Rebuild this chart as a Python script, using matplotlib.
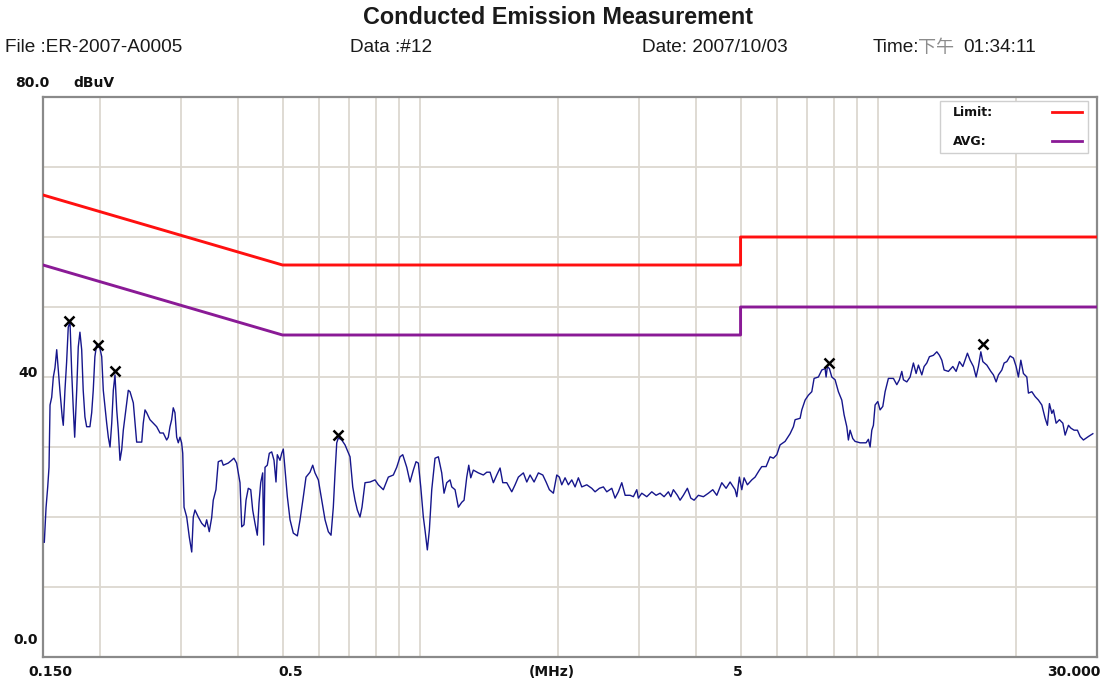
import matplotlib
matplotlib.use("Agg")
import matplotlib.pyplot as plt
from matplotlib.patches import Rectangle

# measured trace, frequency (MHz) and level (dBuV)
freq_mhz = [
    0.151, 0.1523, 0.1536, 0.1546, 0.1554, 0.1567, 0.158, 0.1593, 0.1607, 0.162,
    0.1633, 0.1652, 0.1661, 0.1675, 0.1689, 0.1703, 0.1718, 0.1733, 0.1746, 0.1759,
    0.1777, 0.1791, 0.1806, 0.1822, 0.1836, 0.1852, 0.1868, 0.1899, 0.1916, 0.1931,
    0.1947, 0.1964, 0.1997, 0.2015, 0.2031, 0.2049, 0.2066, 0.2083, 0.2101, 0.2119,
    0.2136, 0.2154, 0.2173, 0.219, 0.2209, 0.2228, 0.2246, 0.2265, 0.2303, 0.2323,
    0.2343, 0.2362, 0.2382, 0.2402, 0.2464, 0.2483, 0.2505, 0.2526, 0.2568, 0.2611,
    0.2656, 0.2701, 0.2746, 0.2793, 0.2816, 0.284, 0.2864, 0.2887, 0.2912, 0.2937,
    0.2961, 0.2986, 0.3011, 0.3028,
    0.3048, 0.3089, 0.313, 0.3168, 0.3193, 0.322, 0.3274, 0.3331, 0.3386, 0.3415,
    0.346, 0.3502, 0.353, 0.3578, 0.362, 0.3682, 0.3712, 0.3806, 0.3871, 0.3916,
    0.397, 0.4038, 0.4073, 0.412, 0.4162, 0.421, 0.4262, 0.4304, 0.4354, 0.4405,
    0.4443, 0.4481, 0.4526, 0.4549, 0.4579, 0.4632, 0.4679, 0.4736, 0.4791, 0.4839,
    0.4871, 0.4937, 0.498, 0.502, 0.5064, 0.5123, 0.5193, 0.5279, 0.5387, 0.5461,
    0.5552, 0.5627, 0.5741, 0.582, 0.5887, 0.5987, 0.609, 0.6192, 0.6295, 0.6381,
    0.6455, 0.6511, 0.6567, 0.662, 0.6734, 0.6846, 0.7021, 0.7117, 0.72, 0.7283,
    0.7382, 0.7456, 0.757, 0.7763, 0.7961, 0.8094, 0.83, 0.8511, 0.8728, 0.8878,
    0.9028, 0.9151, 0.9337, 0.9492, 0.9651, 0.9783, 0.9898, 1.0018, 1.0149, 1.0236,
    1.0355, 1.046, 1.0587, 1.0763, 1.0945, 1.1132, 1.1262, 1.1416, 1.1606,
    1.1707, 1.1903, 1.2102, 1.2311, 1.2454, 1.2624, 1.2752, 1.2881, 1.305, 1.3383,
    1.3723, 1.396, 1.4194, 1.4431, 1.468, 1.4926, 1.5129, 1.5437, 1.583, 1.6095,
    1.6364, 1.6781, 1.7071, 1.7356, 1.7709, 1.8096, 1.8501, 1.881, 1.9125, 1.9513,
    1.9848, 2.0109, 2.0353, 2.0694, 2.104, 2.1403, 2.1761, 2.2125, 2.2506, 2.3079,
    2.3666, 2.4063, 2.4589, 2.5088, 2.5521, 2.6171, 2.6608, 2.7053, 2.752, 2.799,
    2.8693, 2.9173, 2.9676, 2.9914, 3.043, 3.1205, 3.2, 3.2699, 3.3363, 3.404,
    3.4785, 3.5207, 3.567, 3.6395, 3.6892, 3.7509, 3.8272, 3.8932, 3.9583, 4.0447,
    4.1477, 4.2533, 4.3484, 4.4368, 4.5498, 4.6492, 4.7437, 4.8644, 4.9061, 4.970,
    5.0307, 5.0893, 5.1744, 5.2902, 5.3787, 5.4962,
    5.563, 5.6846, 5.8, 5.8971, 5.9988, 6.0991, 6.2544, 6.4136, 6.5209, 6.5769,
    6.7444, 6.8023, 6.9161, 7.0314, 7.1527, 7.2358, 7.394, 7.5214, 7.6472, 7.6858,
    7.7362, 7.8144, 7.9093, 8.0415, 8.1761, 8.3171, 8.4138, 8.5288, 8.5977, 8.6715,
    8.7899, 8.8922, 9.1189, 9.3982, 9.5075, 9.5891, 9.6714, 9.7495, 9.833, 9.9673,
    10.083, 10.221, 10.34, 10.513, 10.781, 10.967, 11.111, 11.246, 11.337, 11.532,
    11.725, 11.921, 12.084, 12.225, 12.435, 12.58, 12.752, 12.92, 13.182, 13.41,
    13.586, 13.751, 13.911, 14.215, 14.533, 14.776, 15.024, 15.283, 15.64, 15.854,
    16.119, 16.339, 16.529, 16.73, 16.899, 17.243, 17.593, 17.825, 18.068, 18.279,
    18.594, 18.81, 19.067, 19.386, 19.711, 19.978, 20.21, 20.456, 20.725, 21.082,
    21.252, 21.619, 21.981, 22.349, 22.734, 23.114, 23.383, 23.619, 23.906, 24.099,
    24.428, 24.837, 25.265, 25.559, 25.987, 26.302, 26.742, 27.19, 27.561, 28.022,
    28.736, 29.378,
]
level_dbuv = [
    16.4, 21.3, 24.3, 27.1, 36.0, 37.1, 40.0, 41.3, 43.9, 41.0,
    38.1, 34.3, 33.1, 38.1, 42.1, 47.1, 47.9, 40.6, 35.7, 31.4,
    38.1, 44.3, 46.4, 43.9, 38.1, 34.3, 32.9, 32.9, 34.9, 38.1,
    42.9, 44.6, 44.1, 42.9, 38.1, 35.7, 33.4, 31.4, 30.0, 33.4,
    38.1, 40.3, 35.3, 32.4, 28.1, 29.6, 32.4, 34.3, 38.1, 37.9,
    37.1, 36.3, 33.4, 30.7, 30.7, 33.4, 35.3, 34.9, 33.9, 33.4,
    32.9, 32.0, 32.0, 31.0, 31.4, 32.9, 33.9, 35.6, 34.9, 31.4,
    30.6, 31.4, 30.6, 29.1,
    21.4, 20.0, 17.1, 15.0, 20.0, 21.0, 20.0, 19.1, 18.6, 19.6,
    17.9, 19.9, 22.4, 23.9, 27.9, 28.1, 27.4, 27.7, 28.1, 28.4,
    27.7, 24.9, 18.6, 18.9, 22.4, 24.1, 23.9, 21.0, 19.1, 17.4,
    22.0, 24.9, 26.3, 16.0, 27.1, 27.4, 29.1, 29.3, 28.1, 25.0,
    28.9, 28.1, 29.1, 29.7, 26.7, 22.9, 19.6, 17.7, 17.3, 19.6,
    22.9, 25.7, 26.4, 27.4, 26.3, 25.3, 22.4, 19.6, 17.9, 17.4,
    21.4, 26.3, 30.6, 31.3, 31.0, 30.3, 28.6, 24.3, 22.4, 21.0,
    20.0, 21.4, 24.9, 25.0, 25.3, 24.6, 23.9, 25.7, 26.0, 27.1,
    28.6, 28.9, 27.1, 25.0, 26.7, 27.9, 27.7, 24.3, 20.0, 18.1,
    15.3, 18.1, 23.9, 28.4, 28.6, 26.3, 23.4, 24.9, 25.3,
    24.3, 23.9, 21.4, 22.1, 22.4, 25.7, 27.4, 25.6, 26.7, 26.3,
    26.0, 26.4, 26.4, 24.9, 26.0, 27.0, 24.9, 24.9, 23.6, 24.6,
    25.7, 26.3, 25.0, 26.0, 25.0, 26.3, 26.0, 25.0, 23.9, 23.4,
    26.0, 25.7, 24.6, 25.6, 24.6, 25.3, 24.3, 25.6, 24.3, 24.6,
    24.1, 23.6, 24.1, 24.3, 23.6, 24.1, 22.7, 23.6, 24.9, 23.1,
    23.1, 22.9, 23.9, 22.7, 23.4, 22.9, 23.6, 23.1, 23.4, 22.9,
    23.6, 22.9, 23.9, 23.1, 22.4, 23.1, 24.1, 22.7, 22.4, 23.1,
    22.9, 23.4, 23.9, 23.1, 24.9, 24.1, 25.0, 23.9, 22.9, 25.7,
    23.9, 25.6, 24.6, 25.3, 25.7, 26.7,
    27.2, 27.2, 28.6, 28.4, 28.9, 30.3, 30.8, 31.9, 32.9, 33.9,
    34.1, 35.3, 36.7, 37.4, 37.9, 39.8, 40.0, 41.0, 41.2, 40.0,
    41.5, 41.2, 40.0, 39.6, 37.9, 36.7, 34.6, 32.9, 31.0, 32.4,
    31.2, 30.8, 30.6, 30.6, 31.1, 30.0, 32.4, 33.1, 36.0, 36.5,
    35.3, 35.8, 37.9, 39.8, 39.8, 38.9, 39.6, 40.8, 39.6, 39.3,
    40.0, 42.0, 40.5, 41.7, 40.3, 41.5, 42.0, 42.9, 43.1, 43.6,
    43.1, 42.4, 41.0, 40.8, 41.5, 40.8, 42.2, 41.5, 43.4, 42.4,
    41.5, 40.0, 41.5, 43.6, 42.2, 41.7, 40.8, 40.3, 39.3, 40.3,
    41.0, 42.0, 42.2, 43.0, 42.7, 41.5, 40.0, 42.4, 40.5, 40.0,
    37.7, 37.9, 37.2, 36.7, 36.0, 34.1, 33.1, 36.2, 34.8, 35.3,
    33.4, 33.9, 33.4, 31.7, 33.1, 32.7, 32.4, 32.4, 31.5, 31.0,
    31.5, 31.9,
]

# limit lines (EN55022 class B)
limit_freq = [0.15, 0.5, 5, 5, 30]
qp_limit = [66, 56, 56, 60, 60]
avg_limit = [56, 46, 46, 50, 50]

# marked peaks
peak_freq = [0.171, 0.1978, 0.2154, 0.662, 7.81, 16.9]
peak_level = [48.0, 44.6, 40.8, 31.7, 42.0, 44.7]

# grid
x_grid = [0.2, 0.3, 0.4, 0.5, 0.6, 0.7, 0.8, 0.9, 1, 2, 3, 4, 5, 6, 7, 8, 9, 10, 20]
y_grid = [10, 20, 30, 40, 50, 60, 70]

W, H = 1107, 682
fig = plt.figure(figsize=(W / 100, H / 100), dpi=100)
fig.patch.set_facecolor('white')
ax = fig.add_axes([43 / W, 25 / H, 1054 / W, 560 / H])

ax.set_xscale('log')
ax.set_xlim(0.15, 30)
ax.set_ylim(0, 80)
ax.set_xticks(x_grid)
ax.set_xticks([], minor=True)
ax.set_yticks(y_grid)
ax.tick_params(which='both', length=0, labelbottom=False, labelleft=False)
ax.grid(True, color='#dcd8d0', lw=1.3)
ax.set_axisbelow(True)
for s in ax.spines.values():
    s.set_color('#8a8a8a')
    s.set_linewidth(1.6)

ax.plot(limit_freq, qp_limit, color='#ff1010', lw=2.1, zorder=3)
ax.plot(limit_freq, avg_limit, color='#8a1a96', lw=2.1, zorder=3)
ax.plot(freq_mhz, level_dbuv, color='#16168c', lw=1.0, zorder=4)
ax.plot(peak_freq, peak_level, ls='none', marker='x', ms=7, mew=1.8,
        color='black', zorder=5)

# legend box
ax.add_patch(Rectangle((0.851, 0.9), 0.1404, 0.093, transform=ax.transAxes,
                       facecolor='white', edgecolor='#cfcfcf', lw=1.0, zorder=6))
lfont = dict(family='DejaVu Sans', fontsize=9, fontweight='bold', color='#111111')
ax.text(0.8634, 0.973, 'Limit:', transform=ax.transAxes, va='center', zorder=7, **lfont)
ax.text(0.8634, 0.921, 'AVG:', transform=ax.transAxes, va='center', zorder=7, **lfont)
ax.plot([0.9573, 0.9858], [0.973, 0.973], transform=ax.transAxes,
        color='#ff1010', lw=2.0, zorder=7)
ax.plot([0.9573, 0.9858], [0.921, 0.921], transform=ax.transAxes,
        color='#8a1a96', lw=2.0, zorder=7)

# axis labels
afont = dict(family='DejaVu Sans', fontsize=10, fontweight='bold', color='#111111')
ax.text(0.0066, -0.026, '0.150', transform=ax.transAxes, ha='center', va='center', **afont)
ax.text(0.2353, -0.026, '0.5', transform=ax.transAxes, ha='center', va='center', **afont)
ax.text(0.483, -0.026, '(MHz)', transform=ax.transAxes, ha='center', va='center', **afont)
ax.text(0.6594, -0.026, '5', transform=ax.transAxes, ha='center', va='center', **afont)
ax.text(1.003, -0.026, '30.000', transform=ax.transAxes, ha='right', va='center', **afont)

fig.text(15 / W, 1 - 83 / H, '80.0', ha='left', va='center', **afont)
fig.text(73 / W, 1 - 83 / H, 'dBuV', ha='left', va='center', **afont)
fig.text(38 / W, 1 - 373 / H, '40', ha='right', va='center', **afont)
fig.text(38 / W, 1 - 640 / H, '0.0', ha='right', va='center', **afont)

# header
fig.text(558 / W, 1 - 18 / H, 'Conducted Emission Measurement', ha='center', va='center',
         family='Liberation Sans', fontsize=16.8, fontweight='bold', color='#1a1a1a')
hfont = dict(family=['Liberation Sans', 'Noto Sans CJK TC'], fontsize=13.7, color='#1a1a1a')
hy = 1 - 48 / H
fig.text(5 / W, hy, 'File :ER-2007-A0005', ha='left', va='center', **hfont)
fig.text(350 / W, hy, 'Data :#12', ha='left', va='center', **hfont)
fig.text(642 / W, hy, 'Date: 2007/10/03', ha='left', va='center', **hfont)
fig.text(873 / W, hy, 'Time:', ha='left', va='center', **hfont)
fig.text(918 / W, hy, '下午', ha='left', va='center', family='Noto Sans CJK TC',
         fontsize=13, color='#8c8c8c')
fig.text(963 / W, hy, '01:34:11', ha='left', va='center', **hfont)

fig.savefig('out.png', dpi=100)
